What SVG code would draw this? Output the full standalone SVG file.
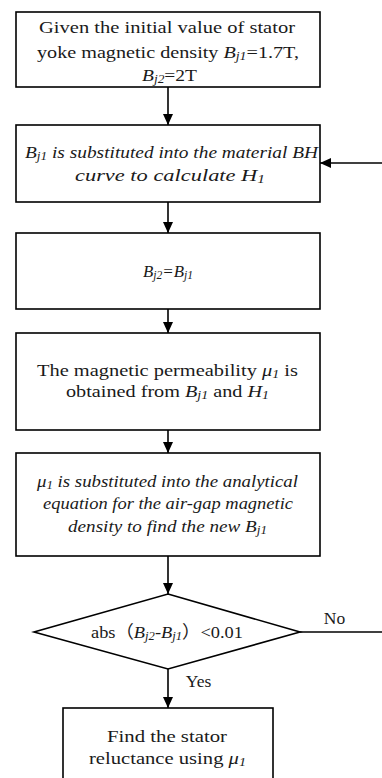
<svg xmlns="http://www.w3.org/2000/svg" width="382" height="778" viewBox="0 0 382 778">
<style>
.box{fill:#fff;stroke:#000;stroke-width:1.6}
.ln{fill:none;stroke:#000;stroke-width:1.6}
text{font-family:"Liberation Serif","Noto Sans CJK SC",serif;font-size:17.5px;fill:#1a1a1a;text-anchor:middle}
.i{font-style:italic}
.s{font-size:12px;font-style:italic}
</style>
<defs>
<marker id="ah" markerUnits="userSpaceOnUse" markerWidth="12" markerHeight="12" viewBox="0 0 12 12" refX="11" refY="6" orient="auto">
<path d="M0,1 L11,6 L0,11 Z" fill="#000"/>
</marker>
</defs>
<g id="connectors">
<line class="ln" x1="168" y1="87" x2="168" y2="125" marker-end="url(#ah)"/>
<line class="ln" x1="168" y1="202" x2="168" y2="233" marker-end="url(#ah)"/>
<line class="ln" x1="168" y1="309" x2="168" y2="333" marker-end="url(#ah)"/>
<line class="ln" x1="168" y1="430" x2="168" y2="453" marker-end="url(#ah)"/>
<line class="ln" x1="168" y1="556" x2="168" y2="594" marker-end="url(#ah)"/>
<line class="ln" x1="168" y1="669" x2="168" y2="708" marker-end="url(#ah)"/>
<line class="ln" x1="300" y1="632" x2="384" y2="632"/>
<line class="ln" x1="384" y1="163" x2="320" y2="163" marker-end="url(#ah)"/>
<text x="334.5" y="624">No</text>
<text x="198.5" y="687">Yes</text>
</g>
<g id="n1">
<rect class="box" x="16" y="12" width="304" height="75"/>
<text x="167" y="33" textLength="256" lengthAdjust="spacingAndGlyphs">Given the initial value of stator</text>
<text x="168" y="58" textLength="262" lengthAdjust="spacingAndGlyphs">yoke magnetic density <tspan class="i">B</tspan><tspan class="s" dy="2">j1</tspan><tspan dy="-2">=1.7T,</tspan></text>
<text x="169.5" y="81" textLength="55" lengthAdjust="spacingAndGlyphs"><tspan class="i">B</tspan><tspan class="s" dy="2">j2</tspan><tspan dy="-2">=2T</tspan></text>
</g>
<g id="n2">
<rect class="box" x="16" y="125" width="304" height="77"/>
<text x="171.5" y="158" textLength="293" lengthAdjust="spacingAndGlyphs" class="i"><tspan>B</tspan><tspan class="s" dy="2">j1</tspan><tspan dy="-2"> is substituted into the material BH</tspan></text>
<text x="170" y="181" textLength="190" lengthAdjust="spacingAndGlyphs" class="i">curve to calculate H<tspan class="s" dy="2">1</tspan></text>
</g>
<g id="n3">
<rect class="box" x="16" y="233" width="304" height="76"/>
<text x="168" y="277" textLength="50" lengthAdjust="spacingAndGlyphs" class="i">B<tspan class="s" dy="2">j2</tspan><tspan dy="-2">=B</tspan><tspan class="s" dy="2">j1</tspan></text>
</g>
<g id="n4">
<rect class="box" x="16" y="333" width="304" height="97"/>
<text x="167.5" y="376" textLength="261" lengthAdjust="spacingAndGlyphs">The magnetic permeability <tspan class="i">μ</tspan><tspan class="s" dy="2">1</tspan><tspan dy="-2"> is</tspan></text>
<text x="167.5" y="397" textLength="203" lengthAdjust="spacingAndGlyphs">obtained from <tspan class="i">B</tspan><tspan class="s" dy="2">j1</tspan><tspan dy="-2"> and </tspan><tspan class="i">H</tspan><tspan class="s" dy="2">1</tspan></text>
</g>
<g id="n5">
<rect class="box" x="16" y="453" width="304" height="103"/>
<text x="167.5" y="487" textLength="261" lengthAdjust="spacingAndGlyphs" class="i">μ<tspan class="s" dy="2">1</tspan><tspan dy="-2"> is substituted into the analytical</tspan></text>
<text x="168" y="509" textLength="250" lengthAdjust="spacingAndGlyphs" class="i">equation for the air-gap magnetic</text>
<text x="167.5" y="532" textLength="199" lengthAdjust="spacingAndGlyphs" class="i">density to find the new B<tspan class="s" dy="2">j1</tspan></text>
</g>
<g id="n6">
<polygon class="box" points="168,594 300,632 168,669 34,632"/>
<text x="167" y="638" textLength="152" lengthAdjust="spacingAndGlyphs">abs（<tspan class="i">B</tspan><tspan class="s" dy="2">j2</tspan><tspan class="i" dy="-2">-B</tspan><tspan class="s" dy="2">j1</tspan><tspan dy="-2">）&lt;0.01</tspan></text>
</g>
<g id="n7">
<rect class="box" x="63" y="708" width="210" height="80"/>
<text x="167" y="742" textLength="120" lengthAdjust="spacingAndGlyphs">Find the stator</text>
<text x="167.5" y="764" textLength="157" lengthAdjust="spacingAndGlyphs">reluctance using <tspan class="i">μ</tspan><tspan class="s" dy="2">1</tspan></text>
</g>
</svg>
